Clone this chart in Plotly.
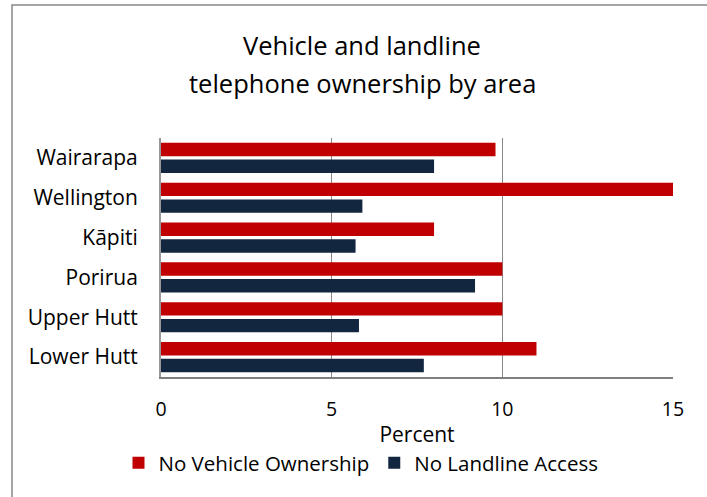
import plotly.graph_objects as go

categories = ["Lower Hutt", "Upper Hutt", "Porirua", "Kāpiti", "Wellington", "Wairarapa"]
no_vehicle = [11.0, 10.0, 10.0, 8.0, 15.0, 9.8]
no_landline = [7.7, 5.8, 9.2, 5.7, 5.9, 8.0]
x_ticks = [0, 5, 10, 15]

FONT = "Open Sans"
W, H = 707, 497
L, R, T, B = 161, 34, 138, 120
pw, ph = W - L - R, H - T - B

def px_x(x):
    return (x - L) / pw

def px_y(y):
    return (H - B - y) / ph

fig = go.Figure()
fig.add_trace(go.Bar(
    y=categories, x=no_landline, orientation="h", name="No Landline Access",
    marker=dict(color="#13263F", line=dict(width=0)), legendrank=2,
))
fig.add_trace(go.Bar(
    y=categories, x=no_vehicle, orientation="h", name="No Vehicle Ownership",
    marker=dict(color="#C00000", line=dict(width=0)), legendrank=1,
))

fig.update_layout(
    width=W, height=H,
    margin=dict(l=L, r=R, t=T, b=B, autoexpand=False),
    paper_bgcolor="white", plot_bgcolor="white",
    barmode="group", bargap=0.16, bargroupgap=0.2,
    font=dict(family=FONT, color="#000000", size=21),
    showlegend=True,
    legend=dict(orientation="h", x=px_x(361), xanchor="center", y=px_y(463), yanchor="middle",
                font=dict(size=20.5, family=FONT), itemwidth=30, traceorder="normal"),
    xaxis=dict(range=[0, 15], tickvals=x_ticks, showgrid=True, gridcolor="#888888", gridwidth=1.2,
               zeroline=False, showline=True, linecolor="#808080", linewidth=2, automargin=False,
               tickfont=dict(size=19.5, family=FONT), ticks="", ticklabelstandoff=14,
               title=dict(text="Percent", font=dict(size=21, family=FONT), standoff=6)),
    yaxis=dict(showgrid=False, zeroline=False, showline=True, linecolor="#999999", linewidth=2,
               automargin=False,
               tickfont=dict(size=21, family=FONT), ticks="", ticklabelstandoff=17),
    shapes=[dict(type="rect", xref="paper", yref="paper",
                 x0=px_x(12), x1=px_x(720), y0=px_y(510), y1=px_y(5),
                 line=dict(color="#888888", width=1.5), fillcolor="rgba(0,0,0,0)", layer="below")],
    annotations=[
        dict(text="Vehicle and landline", xref="paper", yref="paper", x=px_x(362), y=px_y(45),
             showarrow=False, xanchor="center", yanchor="middle", font=dict(size=25.5, family=FONT)),
        dict(text="telephone ownership by area", xref="paper", yref="paper", x=px_x(362), y=px_y(83),
             showarrow=False, xanchor="center", yanchor="middle", font=dict(size=25.5, family=FONT)),
    ],
)

fig.write_html("out.html", config={"displayModeBar": False},
               post_script="document.body.style.margin='0';")
